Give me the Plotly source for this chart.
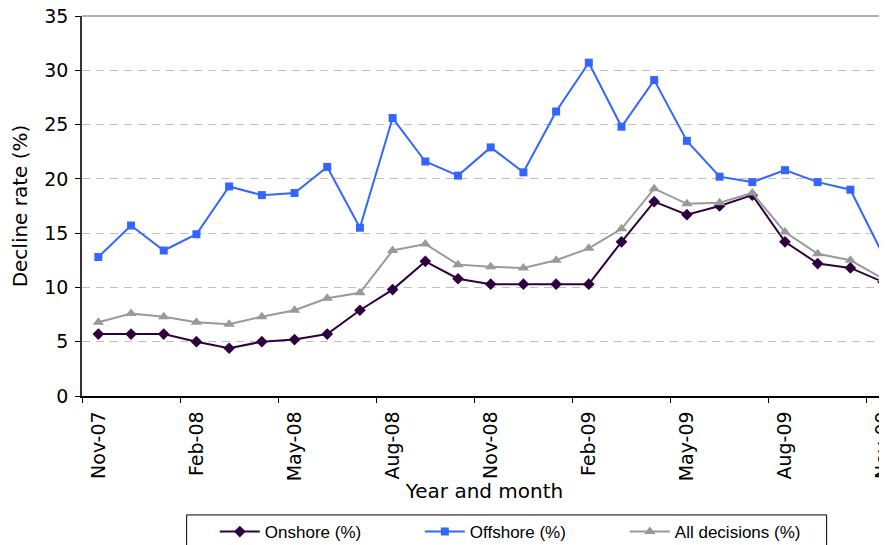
import plotly.graph_objects as go

months = ["Nov-07", "Dec-07", "Jan-08", "Feb-08", "Mar-08", "Apr-08", "May-08", "Jun-08",
          "Jul-08", "Aug-08", "Sep-08", "Oct-08", "Nov-08", "Dec-08", "Jan-09", "Feb-09",
          "Mar-09", "Apr-09", "May-09", "Jun-09", "Jul-09", "Aug-09", "Sep-09", "Oct-09", "Nov-09"]

onshore = [5.7, 5.7, 5.7, 5.0, 4.4, 5.0, 5.2, 5.7, 7.9, 9.8, 12.4, 10.8, 10.3, 10.3, 10.3, 10.3,
           14.2, 17.9, 16.7, 17.5, 18.5, 14.2, 12.2, 11.8, 10.5]
offshore = [12.8, 15.7, 13.4, 14.9, 19.3, 18.5, 18.7, 21.1, 15.5, 25.6, 21.6, 20.3, 22.9, 20.6, 26.2, 30.7,
            24.8, 29.1, 23.5, 20.2, 19.7, 20.8, 19.7, 19.0, 13.0]
all_decisions = [6.8, 7.6, 7.3, 6.8, 6.6, 7.3, 7.9, 9.0, 9.5, 13.4, 14.0, 12.1, 11.9, 11.8, 12.5, 13.6,
                 15.4, 19.1, 17.7, 17.8, 18.7, 15.1, 13.1, 12.5, 10.8]

tick_labels = months[::3]

fig = go.Figure()
fig.add_trace(go.Scatter(x=months, y=onshore, name="Onshore (%)", mode="lines+markers",
                         line=dict(color="#2E0040", width=2),
                         marker=dict(symbol="diamond", size=9, color="#2E0040")))
fig.add_trace(go.Scatter(x=months, y=offshore, name="Offshore (%)", mode="lines+markers",
                         line=dict(color="#3366FF", width=2),
                         marker=dict(symbol="square", size=8, color="#3366FF")))
fig.add_trace(go.Scatter(x=months, y=all_decisions, name="All decisions (%)", mode="lines+markers",
                         line=dict(color="#999999", width=2),
                         marker=dict(symbol="triangle-up", size=10, color="#999999")))

tick_font = dict(family="DejaVu Sans, Verdana, sans-serif", size=19, color="#000000")
title_font = dict(family="DejaVu Sans, Verdana, sans-serif", size=20, color="#000000")

fig.update_layout(
    width=879, height=537,
    margin=dict(l=74, r=0, t=8, b=149, autoexpand=False),
    paper_bgcolor="white", plot_bgcolor="white",
    showlegend=True,
    legend=dict(orientation="h", x=0.165, xanchor="left", y=-0.358, yanchor="middle",
                font=dict(family="Liberation Sans Narrow, Liberation Sans, Arial, sans-serif", size=17, color="#000"),
                entrywidth=150, bgcolor="rgba(0,0,0,0)", borderwidth=0, itemwidth=40),
    xaxis=dict(type="category", range=[-0.5, 24.12], tickmode="array", tickvals=tick_labels,
               ticktext=tick_labels, tickangle=-90, tickson="boundaries", ticks="outside",
               ticklen=5, tickcolor="#000", showline=True, linecolor="#000", linewidth=1.5,
               showgrid=False, tickfont=tick_font, zeroline=False, automargin=False,
               ticklabelstandoff=6, ticklabeloverflow="allow",
               title=dict(text="Year and month", font=title_font, standoff=4)),
    yaxis=dict(range=[0, 35], tickvals=[0, 5, 10, 15, 20, 25, 30, 35], ticks="outside",
               ticklen=5, tickcolor="#000", showline=True, linecolor="#333", linewidth=1.5,
               showgrid=True, gridcolor="#C0C0C0", griddash="8px,6px", gridwidth=1,
               tickfont=tick_font, zeroline=False, automargin=False, ticklabelstandoff=3,
               ticklabeloverflow="allow",
               title=dict(text="Decline rate (%)", font=title_font, standoff=12)),
    shapes=[
        dict(type="line", xref="paper", yref="paper", x0=0, x1=1, y0=1, y1=1,
             line=dict(color="#999999", width=1.5)),
        dict(type="rect", xref="paper", yref="paper", x0=0.130, x1=0.925, y0=-0.313, y1=-0.42,
             line=dict(color="#000", width=1)),
    ],
)

fig.write_html("out.html")
